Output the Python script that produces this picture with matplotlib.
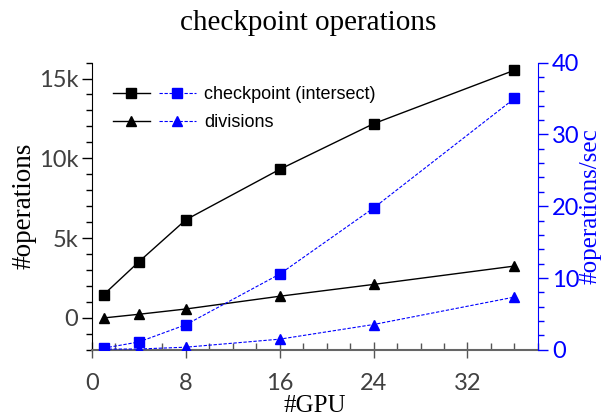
import matplotlib
matplotlib.use('Agg')
import matplotlib.pyplot as plt
from matplotlib.legend_handler import HandlerTuple
from matplotlib.ticker import FuncFormatter, MultipleLocator

gpus = [1, 4, 8, 16, 24, 36]
ckpt_ops = [1460, 3520, 6150, 9310, 12170, 15520]
div_ops = [0, 230, 560, 1360, 2100, 3250]
ckpt_rate = [0.24, 1.1, 3.5, 10.55, 19.75, 35.0]
div_rate = [0.1, 0.12, 0.37, 1.49, 3.53, 7.35]

BLUE = '#0000ff'
GRAY = '#404040'
TICK_FONT = 'Lato'
SERIF = 'Liberation Serif'

fig = plt.figure(figsize=(6.01, 4.2), dpi=100)
ax1 = fig.add_axes([0.153, 0.167, 0.742, 0.684])
ax2 = ax1.twinx()

l1, = ax1.plot(gpus, ckpt_ops, color='black', lw=1, marker='s', ms=7)
l2, = ax1.plot(gpus, div_ops, color='black', lw=1, marker='^', ms=7)
l3, = ax2.plot(gpus, ckpt_rate, color=BLUE, lw=0.8, ls=(0, (3, 1.5)), marker='s', ms=7)
l4, = ax2.plot(gpus, div_rate, color=BLUE, lw=0.8, ls=(0, (3, 1.5)), marker='^', ms=7)

ax1.set_xlim(0, 38)
ax1.set_ylim(-2000, 16000)
ax2.set_ylim(0, 40)

ax1.xaxis.set_major_locator(MultipleLocator(8))
ax1.xaxis.set_minor_locator(MultipleLocator(2))
ax1.yaxis.set_major_locator(MultipleLocator(5000))
ax1.yaxis.set_minor_locator(MultipleLocator(1000))
ax1.yaxis.set_major_formatter(FuncFormatter(lambda v, p: '0' if v == 0 else f'{int(v / 1000)}k'))
ax2.yaxis.set_major_locator(MultipleLocator(10))
ax2.yaxis.set_minor_locator(MultipleLocator(2))

for ax in (ax1, ax2):
    ax.spines['top'].set_visible(False)
ax1.spines['right'].set_visible(False)
ax2.spines['left'].set_visible(False)
ax2.spines['bottom'].set_visible(False)
ax2.spines['right'].set_color(BLUE)
ax1.spines['bottom'].set_color('#666666')
ax1.spines['bottom'].set_linewidth(1.5)

ax1.tick_params(axis='y', which='major', length=7, width=1, pad=3, labelsize=17, labelcolor=GRAY)
ax1.tick_params(axis='y', which='minor', length=4, width=1)
ax1.tick_params(axis='x', which='major', direction='inout', length=12, width=1, pad=11, labelsize=17, labelcolor=GRAY, color='#555555')
ax1.tick_params(axis='x', which='minor', direction='in', length=5, width=1, color='#555555')
ax2.tick_params(axis='y', which='major', length=7, width=1, pad=3, labelsize=17, colors=BLUE)
ax2.tick_params(axis='y', which='minor', length=4, width=1, colors=BLUE)
for lab in ax1.get_xticklabels() + ax1.get_yticklabels() + ax2.get_yticklabels():
    lab.set_family(TICK_FONT)

fig.suptitle('checkpoint operations', family=SERIF, fontsize=21, x=0.512, y=0.975)
ax1.set_xlabel('#GPU', family=SERIF, fontsize=18)
ax1.set_ylabel('#operations', family=SERIF, fontsize=19.5)
ax2.set_ylabel('#operations/sec', family=SERIF, fontsize=18, color=BLUE)
ax1.xaxis.set_label_coords(0.5, -0.158)
ax1.yaxis.set_label_coords(-0.125, 0.5)
ax2.yaxis.set_label_coords(1.093, 0.5)

ax1.legend([(l1, l3), (l2, l4)], ['checkpoint (intersect)', 'divisions'],
           handler_map={tuple: HandlerTuple(ndivide=None, pad=0.5)},
           handlelength=4.6, frameon=False, loc='upper left',
           bbox_to_anchor=(0.01, 0.975), prop={'family': 'Liberation Sans', 'size': 13},
           labelspacing=0.6, handletextpad=0.45)

fig.savefig('out.png', dpi=100)
